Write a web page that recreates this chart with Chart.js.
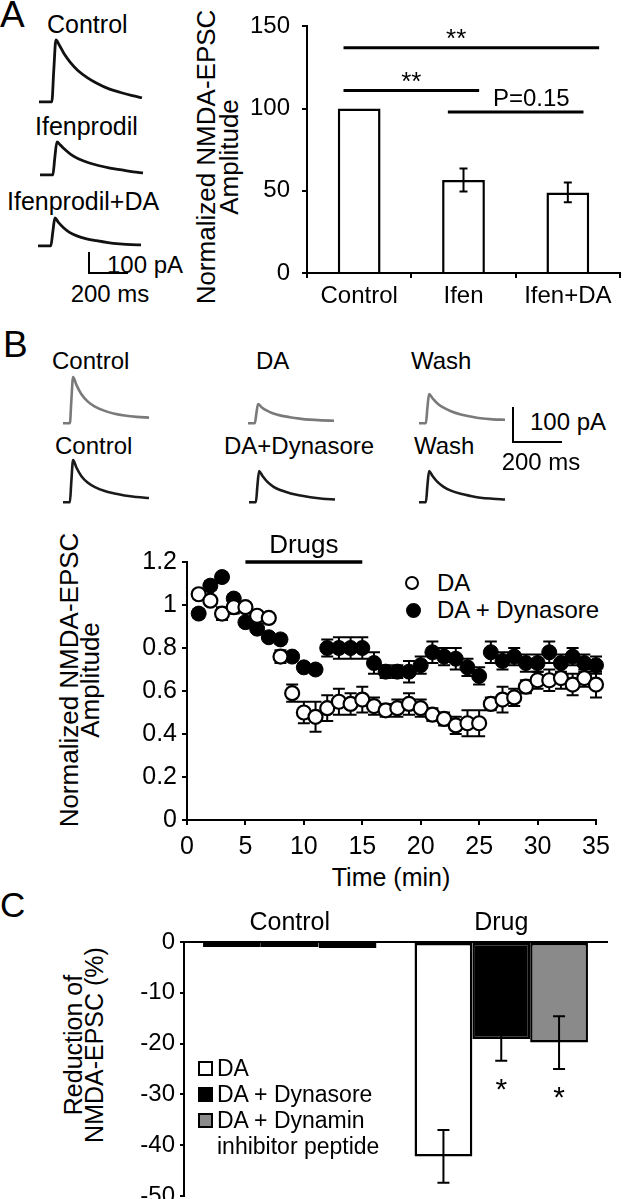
<!DOCTYPE html>
<html>
<head>
<meta charset="utf-8">
<script src="https://cdn.jsdelivr.net/npm/chart.js@4.4.1/dist/chart.umd.min.js"></script>
<style>
  html, body { margin: 0; padding: 0; background: #fff; overflow: hidden; }
  #fig { position: relative; width: 628px; height: 1199px; font-family: "Liberation Sans", Arial, sans-serif; color: #000; }
  #fig canvas { position: absolute; }
  .t { position: absolute; white-space: pre; line-height: 1; }
  .rot { position: absolute; white-space: pre; text-align: center; transform: translate(-50%, -50%) rotate(-90deg); }
  .ln { position: absolute; background: #000; }
  .mk { position: absolute; box-sizing: border-box; border: 2px solid #000; }
</style>
</head>
<body>
<div id="fig"></div>
<script>
// ---- panel A: bar chart ----
const groupsA = ["Control", "Ifen", "Ifen+DA"];
const meanA = [100, 56.5, 49];
const semA = [0, 7, 6];
// significance lines: [from, to, level] in category / value units
const sigA = [[-0.15, 2.3, 137], [-0.15, 1.15, 111], [0.85, 2.15, 98]];
const sigTextA = ["**", "**", "P=0.15"];
const sigTextAtA = [0.93, 0.5, 1.65];

// ---- panel A: example traces (ms, pA) ----
const tA = [0, 66, 76, 87, 105, 130, 160, 200, 250, 300, 360, 420, 480, 530];
const ctrlA = [0, 0, 150, 295, 270, 228, 190, 150, 115, 88, 62, 45, 30, 20];
const ifenA = [0, 0, 80, 157, 142, 120, 97, 76, 58, 45, 33, 24, 15, 10];
const ifenDaA = [0, 0, 65, 133, 112, 88, 66, 48, 34, 25, 16, 10, 6, 5];

// ---- panel B: example traces (ms, pA) ----
const tB = [0, 28, 34, 41, 55, 75, 100, 130, 170, 210, 250, 300, 350];
const ctrlGrayB = [0, 0, 65, 131, 108, 82, 62, 47, 35, 27, 22, 18, 16];
const daGrayB = [0, 0, 27, 54, 45, 36, 28, 22, 17, 13, 10, 8, 7];
const washGrayB = [0, 0, 42, 83, 71, 56, 44, 34, 25, 19, 14, 11, 10];
const ctrlBlackB = [0, 0, 60, 120, 98, 74, 56, 43, 32, 25, 19, 15, 12];
const dynBlackB = [0, 0, 45, 89, 75, 58, 44, 34, 25, 19, 14, 10, 8];
const washBlackB = [0, 0, 45, 89, 75, 58, 44, 33, 24, 18, 13, 10, 8];

// ---- panel B: time course ----
const minutes = [1, 2, 3, 4, 5, 6, 7, 8, 9, 10, 11, 12, 13, 14, 15, 16, 17, 18, 19, 20,
                 21, 22, 23, 24, 25, 26, 27, 28, 29, 30, 31, 32, 33, 34, 35];
const daMean = [1.05, 1.02, 0.96, 0.99, 0.99, 0.95, 0.94, 0.76, 0.59, 0.50, 0.48, 0.52, 0.55, 0.54, 0.56, 0.53, 0.51, 0.52, 0.54, 0.52,
                0.49, 0.47, 0.44, 0.45, 0.45, 0.54, 0.56, 0.57, 0.62, 0.65, 0.65, 0.66, 0.63, 0.66, 0.63];
const daSem = [0.02, 0.02, 0.03, 0.03, 0.02, 0.02, 0.02, 0.03, 0.04, 0.05, 0.07, 0.06, 0.06, 0.05, 0.06, 0.04, 0.03, 0.04, 0.05, 0.04,
               0.03, 0.03, 0.04, 0.06, 0.06, 0.03, 0.06, 0.04, 0.03, 0.04, 0.05, 0.05, 0.05, 0.04, 0.06];
const dynMean = [0.96, 1.09, 1.13, 1.03, 0.92, 0.89, 0.85, 0.84, 0.76, 0.71, 0.70, 0.80, 0.80, 0.80, 0.80, 0.73, 0.69, 0.69, 0.69, 0.72,
                 0.78, 0.76, 0.75, 0.71, 0.67, 0.78, 0.74, 0.76, 0.73, 0.73, 0.78, 0.73, 0.76, 0.73, 0.72];
const dynSem = [0.02, 0.02, 0.02, 0.02, 0.02, 0.02, 0.02, 0.02, 0.02, 0.02, 0.02, 0.04, 0.05, 0.05, 0.05, 0.05, 0.03, 0.03, 0.05, 0.04,
                0.05, 0.04, 0.05, 0.04, 0.04, 0.05, 0.04, 0.04, 0.04, 0.04, 0.05, 0.04, 0.04, 0.04, 0.04];
const drugWindow = [5, 15];
const drugLevel = 1.2;

// ---- panel C: reduction ----
const groupsC = ["Control", "Drug"];
const redDA = [-1, -42.2];
const redDyn = [-1, -19.1];
const redPep = [-1.2, -19.8];
const semDA = [0, 5.2];
const semDyn = [0, 4.3];
const semPep = [0, 5.2];
const starsDyn = ["", "*"];
const starsPep = ["", "*"];

const F = '"Liberation Sans", Arial, sans-serif';
Chart.defaults.font.family = F;
Chart.defaults.color = '#000';
Chart.defaults.animation = false;
Chart.defaults.responsive = false;
Chart.defaults.events = [];
Chart.defaults.plugins.legend.display = false;
Chart.defaults.plugins.tooltip.enabled = false;

const fig = document.getElementById('fig');

function addCanvas(x, y, w, h) {
  const c = document.createElement('canvas');
  c.width = w; c.height = h;
  c.style.left = x + 'px'; c.style.top = y + 'px';
  fig.appendChild(c);
  return c;
}

// y is the vertical centre of the capitals
function txt(s, x, y, size, center) {
  const d = document.createElement('div');
  d.className = 't';
  d.textContent = s;
  d.style.fontSize = size + 'px';
  d.style.left = x + 'px';
  d.style.top = (y - 0.49 * size) + 'px';
  if (center) d.style.transform = 'translateX(-50%)';
  fig.appendChild(d);
}

function rot(s, cx, cy, size, lh) {
  const d = document.createElement('div');
  d.className = 'rot';
  d.textContent = s;
  d.style.fontSize = size + 'px';
  d.style.lineHeight = lh + 'px';
  d.style.left = cx + 'px';
  d.style.top = cy + 'px';
  fig.appendChild(d);
}

function line(x, y, w, h) {
  const d = document.createElement('div');
  d.className = 'ln';
  Object.assign(d.style, { left: x + 'px', top: y + 'px', width: w + 'px', height: h + 'px' });
  fig.appendChild(d);
}

function marker(cx, cy, size, fill, round) {
  const d = document.createElement('div');
  d.className = 'mk';
  Object.assign(d.style, { left: (cx - size / 2) + 'px', top: (cy - size / 2) + 'px',
    width: size + 'px', height: size + 'px', background: fill, borderRadius: round ? '50%' : '0' });
  fig.appendChild(d);
}

function trace(t, v, color, x0, base, pxMs, pxPa, lw) {
  const pad = 3;
  const tMax = t[t.length - 1], vMax = Math.max(...v), vMin = -5;
  const w = Math.round(tMax * pxMs), h = Math.round((vMax - vMin) * pxPa);
  const c = addCanvas(x0 - pad, Math.round(base - vMax * pxPa) - pad, w + 2 * pad, h + 2 * pad);
  new Chart(c, {
    type: 'line',
    data: { datasets: [{ data: t.map((x, i) => ({ x, y: v[i] })), borderColor: color, borderWidth: lw,
      pointRadius: 0, cubicInterpolationMode: 'monotone', clip: false }] },
    options: {
      layout: { padding: pad },
      scales: { x: { type: 'linear', display: false, min: 0, max: tMax }, y: { display: false, min: vMin, max: vMax } }
    }
  });
}

function errorBars(cap, lw, before) {
  const draw = (chart) => {
    const ctx = chart.ctx, y = chart.scales.y;
    chart.data.datasets.forEach((ds, di) => {
      if (!ds.errors) return;
      chart.getDatasetMeta(di).data.forEach((el, i) => {
        const e = ds.errors[i];
        if (!e) return;
        const v = typeof ds.data[i] === 'object' ? ds.data[i].y : ds.data[i];
        const y1 = y.getPixelForValue(v + e), y2 = y.getPixelForValue(v - e);
        ctx.save();
        ctx.strokeStyle = '#000';
        ctx.lineWidth = lw;
        ctx.beginPath();
        ctx.moveTo(el.x, y1); ctx.lineTo(el.x, y2);
        ctx.moveTo(el.x - cap, y1); ctx.lineTo(el.x + cap, y1);
        ctx.moveTo(el.x - cap, y2); ctx.lineTo(el.x + cap, y2);
        ctx.stroke();
        if (ds.stars && ds.stars[i]) {
          ctx.fillStyle = '#000';
          ctx.font = '30px ' + F;
          ctx.textAlign = 'center';
          ctx.textBaseline = 'alphabetic';
          ctx.fillText(ds.stars[i], el.x, y2 + 38);
        }
        ctx.restore();
      });
    });
  };
  return before ? { id: 'errB', beforeDatasetsDraw: draw } : { id: 'errA', afterDatasetsDraw: draw };
}

const axisGrid = { drawOnChartArea: false, tickLength: 5, color: '#000', lineWidth: 2 };
const axisBorder = { color: '#000', width: 2 };

// ================= Panel A =================
txt('A', 0, 14, 37);
txt('Control', 47, 24, 25);
txt('Ifenprodil', 35, 126, 25);
txt('Ifenprodil+DA', 7, 201, 25);
trace(tA, ctrlA, '#111', 39, 102, 0.195, 0.21, 2.8);
trace(tA, ifenA, '#111', 40, 175, 0.195, 0.21, 2.8);
trace(tA, ifenDaA, '#111', 38, 246, 0.195, 0.21, 2.8);
line(88, 252, 2, 22);
line(88, 272, 40, 2);
txt('100 pA', 107, 265, 24);
txt('200 ms', 110, 294, 24, true);
rot('Normalized NMDA-EPSC\nAmplitude', 217.5, 157, 26, 23);

const sigPlugin = {
  id: 'sig',
  afterDraw(chart) {
    const { ctx, scales: { x, y } } = chart;
    ctx.save();
    ctx.strokeStyle = '#000';
    ctx.fillStyle = '#000';
    ctx.lineWidth = 3;
    ctx.textAlign = 'center';
    ctx.textBaseline = 'alphabetic';
    sigA.forEach(([a, b, lvl], i) => {
      const py = y.getPixelForValue(lvl);
      ctx.beginPath();
      ctx.moveTo(x.getPixelForValue(a), py);
      ctx.lineTo(x.getPixelForValue(b), py);
      ctx.stroke();
      ctx.font = (sigTextA[i] === '**' ? 26 : 24) + 'px ' + F;
      ctx.fillText(sigTextA[i], x.getPixelForValue(sigTextAtA[i]), py - (sigTextA[i] === '**' ? 1 : 6));
    });
    ctx.restore();
  }
};

new Chart(addCanvas(230, 0, 398, 315), {
  type: 'bar',
  data: {
    labels: groupsA,
    datasets: [{ data: meanA, errors: semA, backgroundColor: '#fff', borderColor: '#000', borderWidth: 2.5,
      borderSkipped: 'start', barPercentage: 0.41, categoryPercentage: 1 }]
  },
  options: {
    layout: { padding: { top: 23, right: 8, left: 0, bottom: 0 } },
    scales: {
      x: { grid: { ...axisGrid, offset: true }, border: axisBorder,
           ticks: { color: '#000', font: { size: 24 }, padding: 4 }, afterFit: s => { s.height = 42; } },
      y: { min: 0, max: 150, grid: axisGrid, border: axisBorder,
           ticks: { stepSize: 50, color: '#000', font: { size: 24 }, padding: 12 }, afterFit: s => { s.width = 77; } }
    }
  },
  plugins: [errorBars(4, 2, false), sigPlugin]
});

// ================= Panel B =================
txt('B', 3, 344, 37);
txt('Control', 52, 361, 24);
txt('DA', 256, 361, 24);
txt('Wash', 411, 361, 24);
txt('Control', 55, 446, 24);
txt('DA+Dynasore', 224, 446, 24);
txt('Wash', 414, 446, 24);
trace(tB, ctrlGrayB, '#7a7a7a', 63, 423, 0.245, 0.35, 2.6);
trace(tB, daGrayB, '#7a7a7a', 248, 423, 0.245, 0.35, 2.6);
trace(tB, washGrayB, '#7a7a7a', 419, 423, 0.245, 0.35, 2.6);
trace(tB, ctrlBlackB, '#1a1a1a', 63, 502, 0.245, 0.35, 2.6);
trace(tB, dynBlackB, '#1a1a1a', 249, 502, 0.245, 0.35, 2.6);
trace(tB, washBlackB, '#1a1a1a', 419, 502, 0.245, 0.35, 2.6);
line(512, 407, 2, 36);
line(512, 441, 50, 2);
txt('100 pA', 530, 422, 24);
txt('200 ms', 541, 462, 24, true);

rot('Normalized NMDA-EPSC\nAmplitude', 79.5, 680, 26, 21);
txt('Time (min)', 391, 877, 25, true);
marker(412, 583, 14, '#fff', true);
txt('DA', 437, 583, 24);
marker(413, 610, 15, '#000', true);
txt('DA + Dynasore', 437, 610, 24);

const drugPlugin = {
  id: 'drugs',
  afterDraw(chart) {
    const { ctx, scales: { x, y } } = chart;
    const py = y.getPixelForValue(drugLevel);
    ctx.save();
    ctx.strokeStyle = '#000';
    ctx.lineWidth = 3.5;
    ctx.beginPath();
    ctx.moveTo(x.getPixelForValue(drugWindow[0]), py);
    ctx.lineTo(x.getPixelForValue(drugWindow[1]), py);
    ctx.stroke();
    ctx.fillStyle = '#000';
    ctx.font = '26px ' + F;
    ctx.textAlign = 'center';
    ctx.textBaseline = 'alphabetic';
    ctx.fillText('Drugs', x.getPixelForValue((drugWindow[0] + drugWindow[1]) / 2), py - 9);
    ctx.restore();
  }
};

new Chart(addCanvas(100, 520, 528, 380), {
  type: 'scatter',
  data: {
    datasets: [
      { label: 'DA', data: minutes.map((m, i) => ({ x: m, y: daMean[i] })), errors: daSem,
        pointRadius: 7, pointBackgroundColor: '#fff', pointBorderColor: '#000', pointBorderWidth: 2.2, clip: false },
      { label: 'DA + Dynasore', data: minutes.map((m, i) => ({ x: m, y: dynMean[i] })), errors: dynSem,
        pointRadius: 7.5, pointBackgroundColor: '#000', pointBorderColor: '#000', pointBorderWidth: 1, clip: false }
    ]
  },
  options: {
    layout: { padding: { top: 42, right: 32, left: 0, bottom: 0 } },
    scales: {
      x: { type: 'linear', min: 0, max: 35, grid: axisGrid, border: axisBorder,
           ticks: { stepSize: 5, color: '#000', font: { size: 25 }, padding: 7 }, afterFit: s => { s.height = 80; } },
      y: { min: 0, max: 1.2, grid: axisGrid, border: axisBorder,
           ticks: { stepSize: 0.2, color: '#000', font: { size: 25 }, padding: 5, callback: v => String(+v.toFixed(1)) },
           afterFit: s => { s.width = 87; } }
    }
  },
  plugins: [errorBars(6, 2, true), drugPlugin]
});

// ================= Panel C =================
txt('C', 0, 904, 35);
rot('Reduction of\nNMDA-EPSC (%)', 83.5, 1045, 25, 21);
marker(205, 1068, 15, '#fff', false);
txt('DA', 217, 1068, 23);
marker(205, 1094, 15, '#000', false);
txt('DA + Dynasore', 217, 1094, 23);
marker(205, 1120, 15, '#8a8a8a', false);
txt('DA + Dynamin', 217, 1120, 23);
txt('inhibitor peptide', 217, 1146, 23);

new Chart(addCanvas(100, 880, 528, 340), {
  type: 'bar',
  data: {
    labels: groupsC,
    datasets: [
      { label: 'DA', data: redDA, errors: semDA, backgroundColor: '#fff', borderColor: '#000',
        borderWidth: 2.5, borderSkipped: false, barPercentage: 1, categoryPercentage: 0.82 },
      { label: 'DA + Dynasore', data: redDyn, errors: semDyn, stars: starsDyn, backgroundColor: '#000', borderColor: '#000',
        borderWidth: 2.5, borderSkipped: false, barPercentage: 1, categoryPercentage: 0.82 },
      { label: 'DA + Dynamin inhibitor peptide', data: redPep, errors: semPep, stars: starsPep, backgroundColor: '#8a8a8a',
        borderColor: '#000', borderWidth: 2.5, borderSkipped: false, barPercentage: 1, categoryPercentage: 0.82 }
    ]
  },
  options: {
    layout: { padding: { top: 12, right: 21, left: 0, bottom: 24 } },
    scales: {
      x: { position: 'top', grid: { display: false, drawTicks: false }, border: axisBorder,
           ticks: { color: '#000', font: { size: 25 }, padding: 4 }, afterFit: s => { s.height = 50; } },
      y: { min: -50, max: 0, grid: { ...axisGrid, tickLength: 4 }, border: axisBorder,
           ticks: { stepSize: 10, color: '#000', font: { size: 24 }, padding: 5 }, afterFit: s => { s.width = 84; } }
    }
  },
  plugins: [errorBars(6, 2, false)]
});
</script>
</body>
</html>
